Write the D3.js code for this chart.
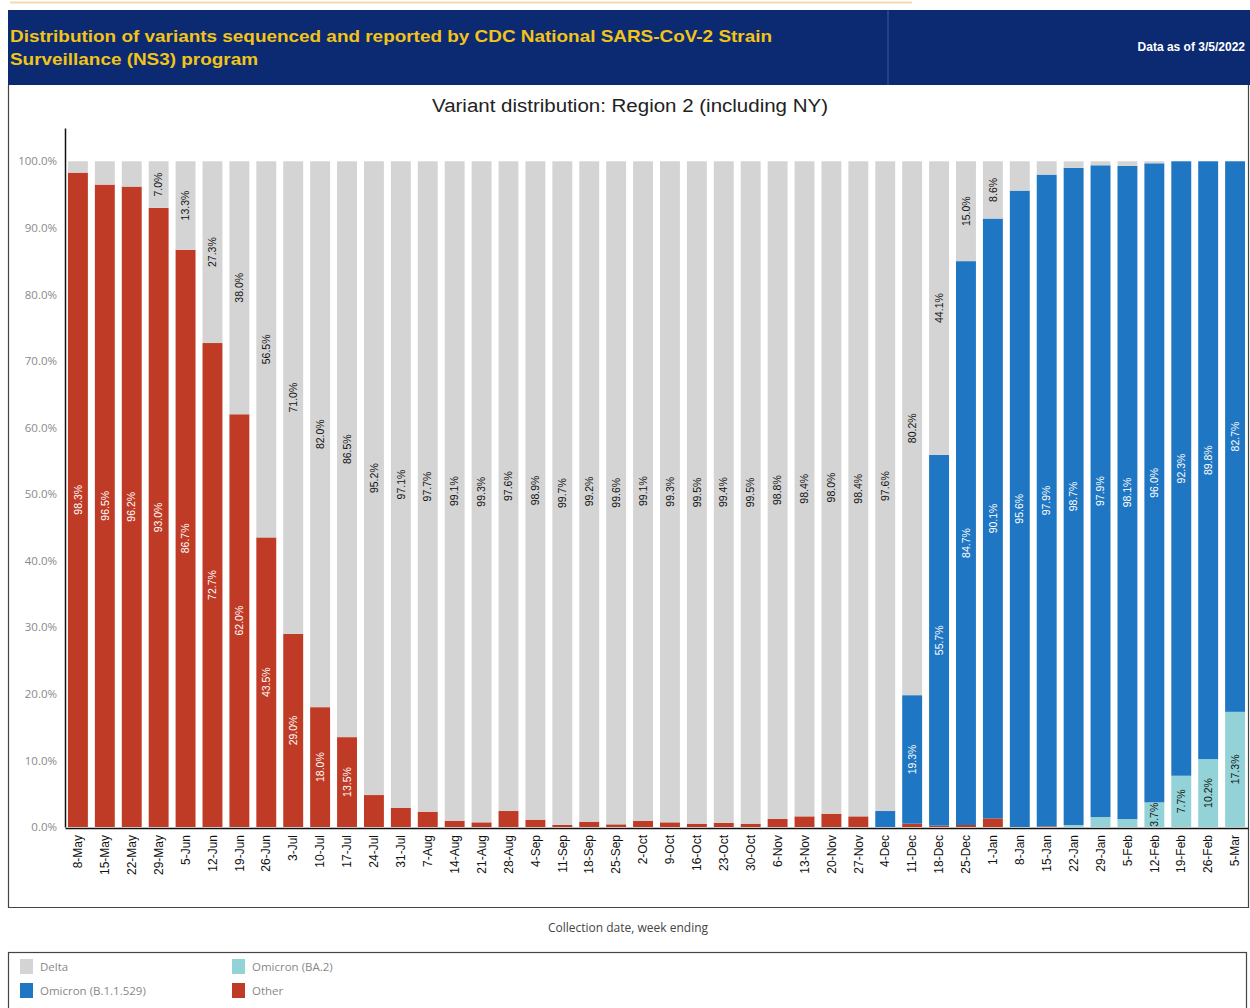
<!DOCTYPE html>
<html>
<head>
<meta charset="utf-8">
<script src="https://cdn.jsdelivr.net/npm/d3@7"></script>
<style>
  body { margin: 0; background: #fff; }
  svg { display: block; }
</style>
</head>
<body>
<svg id="chart"></svg>
<script>
const weeks = ["8-May","15-May","22-May","29-May","5-Jun","12-Jun","19-Jun","26-Jun","3-Jul","10-Jul","17-Jul","24-Jul","31-Jul","7-Aug","14-Aug","21-Aug","28-Aug","4-Sep","11-Sep","18-Sep","25-Sep","2-Oct","9-Oct","16-Oct","23-Oct","30-Oct","6-Nov","13-Nov","20-Nov","27-Nov","4-Dec","11-Dec","18-Dec","25-Dec","1-Jan","8-Jan","15-Jan","22-Jan","29-Jan","5-Feb","12-Feb","19-Feb","26-Feb","5-Mar"];

const other   = [98.3,96.5,96.2,93.0,86.7,72.7,62.0,43.5,29.0,18.0,13.5,4.8,2.9,2.3,0.9,0.7,2.4,1.1,0.3,0.8,0.4,0.9,0.7,0.5,0.6,0.5,1.2,1.6,2.0,1.6,0,0.5,0.2,0.3,1.3,0,0.1,0,0,0,0,0,0,0];
const ba2     = [0,0,0,0,0,0,0,0,0,0,0,0,0,0,0,0,0,0,0,0,0,0,0,0,0,0,0,0,0,0,0,0,0,0,0,0,0,0.3,1.5,1.2,3.7,7.7,10.2,17.3];
const omicron = [0,0,0,0,0,0,0,0,0,0,0,0,0,0,0,0,0,0,0,0,0,0,0,0,0,0,0,0,0,0,2.4,19.3,55.7,84.7,90.1,95.6,97.9,98.7,97.9,98.1,96.0,92.3,89.8,82.7];
const delta   = [1.7,3.5,3.8,7.0,13.3,27.3,38.0,56.5,71.0,82.0,86.5,95.2,97.1,97.7,99.1,99.3,97.6,98.9,99.7,99.2,99.6,99.1,99.3,99.5,99.4,99.5,98.8,98.4,98.0,98.4,97.6,80.2,44.1,15.0,8.6,4.4,2.0,1.0,0.6,0.7,0.3,0,0,0];

const yTicks = [0,10,20,30,40,50,60,70,80,90,100];

// stack order, bottom to top
const series = [
  {key: "other",   name: "Other",               color: "#c03b26", text: "#fff", minLabel: 5},
  {key: "ba2",     name: "Omicron (BA.2)",      color: "#93d3d7", text: "#111", minLabel: 3},
  {key: "omicron", name: "Omicron (B.1.1.529)", color: "#1f76c2", text: "#fff", minLabel: 5},
  {key: "delta",   name: "Delta",               color: "#d4d4d4", text: "#111", minLabel: 5}
];

const rows = weeks.map((w, i) => ({week: w, other: other[i], ba2: ba2[i], omicron: omicron[i], delta: delta[i]}));

const width = 1250, height = 1008;
const svg = d3.select("#chart").attr("width", width).attr("height", height)
    .attr("font-family", "'Liberation Sans', Arial, sans-serif");

// faint top rule
svg.append("line").attr("x1", 10).attr("x2", 912).attr("y1", 2.5).attr("y2", 2.5)
    .attr("stroke", "#f3d9b0").attr("stroke-width", 2);

// header band
svg.append("rect").attr("x", 8).attr("y", 10).attr("width", 1242).attr("height", 75).attr("fill", "#0b2a72");
svg.append("line").attr("x1", 888).attr("x2", 888).attr("y1", 10).attr("y2", 85)
    .attr("stroke", "#2c4a8e").attr("stroke-width", 1.5);
svg.append("text").attr("x", 10).attr("y", 42)
    .attr("fill", "#f2c417").attr("font-size", 17).attr("font-weight", "bold")
    .attr("textLength", 762).attr("lengthAdjust", "spacingAndGlyphs")
    .text("Distribution of variants sequenced and reported by CDC National SARS-CoV-2 Strain");
svg.append("text").attr("x", 10).attr("y", 65)
    .attr("fill", "#f2c417").attr("font-size", 17).attr("font-weight", "bold")
    .attr("textLength", 248).attr("lengthAdjust", "spacingAndGlyphs")
    .text("Surveillance (NS3) program");
svg.append("text").attr("x", 1245).attr("y", 51)
    .attr("fill", "#fff").attr("font-size", 12).attr("font-weight", "bold")
    .attr("text-anchor", "end")
    .text("Data as of 3/5/2022");

// chart frame
svg.append("path").attr("d", "M8.5,85 V907.5 H1248.5 V85")
    .attr("fill", "none").attr("stroke", "#444").attr("stroke-width", 1.2);

svg.append("text").attr("x", 630).attr("y", 112)
    .attr("text-anchor", "middle").attr("font-size", 18).attr("fill", "#222")
    .attr("textLength", 396).attr("lengthAdjust", "spacingAndGlyphs")
    .text("Variant distribution: Region 2 (including NY)");

const x = d3.scaleBand().domain(weeks).range([65, 1248]).paddingInner(0.26).paddingOuter(0.11);
const y = d3.scaleLinear().domain([0, 105]).range([827, 128]);

const stack = d3.stack().keys(series.map(s => s.key));
const layers = stack(rows);

const g = svg.append("g");
layers.forEach((layer, li) => {
  const s = series[li];
  g.append("g").attr("fill", s.color)
    .selectAll("rect")
    .data(layer)
    .join("rect")
      .attr("x", d => x(d.data.week))
      .attr("y", d => y(d[1]))
      .attr("width", x.bandwidth())
      .attr("height", d => Math.max(0, y(d[0]) - y(d[1])));
});

// value labels
const fmt = v => d3.format(".1f")(v) + "%";
layers.forEach((layer, li) => {
  const s = series[li];
  g.append("g")
    .selectAll("text")
    .data(layer.filter(d => d.data[s.key] >= s.minLabel))
    .join("text")
      .attr("transform", d => `translate(${x(d.data.week) + x.bandwidth() / 2},${(y(d[0]) + y(d[1])) / 2}) rotate(-90)`)
      .attr("text-anchor", "middle")
      .attr("dy", "0.35em")
      .attr("font-size", 10.5)
      .attr("fill", s.text)
      .text(d => fmt(d.data[s.key]));
});

// y axis
const yAxis = svg.append("g").attr("transform", "translate(65,0)")
    .call(d3.axisLeft(y).tickValues(yTicks).tickFormat(d => d3.format(".1f")(d) + "%").tickSize(0).tickSizeOuter(0).tickPadding(8));
yAxis.select(".domain").attr("stroke", "#111").attr("stroke-width", 1.5);
yAxis.selectAll("text").attr("font-size", 11.5).attr("fill", "#8a8a8a")
    .attr("font-family", "'Open Sans', sans-serif");

// x axis
const xAxis = svg.append("g").attr("transform", "translate(0,828)")
    .call(d3.axisBottom(x).tickSize(0).tickSizeOuter(0));
xAxis.select(".domain").attr("stroke", "#111").attr("stroke-width", 1.5);
xAxis.selectAll("text")
    .attr("transform", "rotate(-90)")
    .attr("text-anchor", "end")
    .attr("x", -7)
    .attr("y", 0)
    .attr("dy", "0.35em")
    .attr("font-size", 12)
    .attr("fill", "#111");

svg.append("text").attr("x", 628).attr("y", 932)
    .attr("text-anchor", "middle").attr("font-size", 12).attr("fill", "#444")
    .attr("font-family", "'Open Sans', sans-serif")
    .text("Collection date, week ending");

// legend
svg.append("rect").attr("x", 8.5).attr("y", 952.5).attr("width", 1238).attr("height", 70)
    .attr("fill", "none").attr("stroke", "#444").attr("stroke-width", 1.2);

const legendItems = [
  {s: series[3], lx: 20,  ly: 959},
  {s: series[2], lx: 20,  ly: 983},
  {s: series[1], lx: 232, ly: 959},
  {s: series[0], lx: 232, ly: 983}
];
const leg = svg.append("g").selectAll("g").data(legendItems).join("g")
    .attr("transform", d => `translate(${d.lx},${d.ly})`);
leg.append("rect").attr("width", 13).attr("height", 15).attr("fill", d => d.s.color);
leg.append("text").attr("x", 20).attr("y", 12)
    .attr("font-size", 11.5).attr("fill", "#888")
    .attr("font-family", "'Open Sans', sans-serif")
    .text(d => d.s.name);
</script>
</body>
</html>
